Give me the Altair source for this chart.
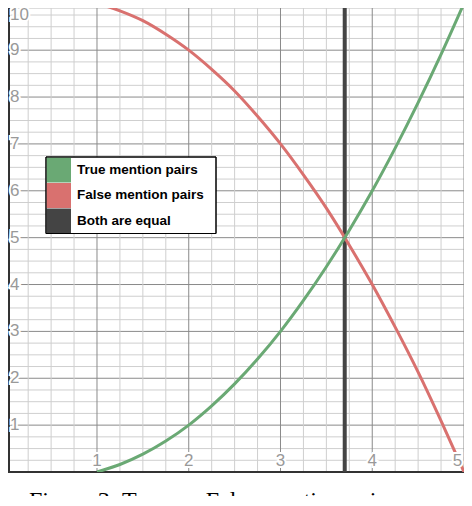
import altair as alt
import pandas as pd

# ---- data ----
n_vals = [1.0, 1.25, 1.5, 1.75, 2.0, 2.25, 2.5, 2.75, 3.0, 3.25, 3.5, 3.75, 4.0, 4.25, 4.5, 4.75, 5.0]
true_pairs = [0.0, 0.16, 0.38, 0.66, 1.0, 1.41, 1.88, 2.41, 3.0, 3.66, 4.38, 5.16, 6.0, 6.91, 7.88, 8.91, 10.0]
false_pairs = [10.0, 9.84, 9.63, 9.34, 9.0, 8.59, 8.13, 7.59, 7.0, 6.34, 5.63, 4.84, 4.0, 3.09, 2.13, 1.09, 0.0]
equal_x = [3.70]

x_ticks = [1, 2, 3, 4, 5]
y_ticks = [1, 2, 3, 4, 5, 6, 7, 8, 9, 10]
grid_x = [i * 0.25 for i in range(1, 21)]
grid_y = [i * 0.25 for i in range(0, 41)]

legend_labels = ["True mention pairs", "False mention pairs", "Both are equal"]
legend_colors = ["#6aa974", "#d9716f", "#444444"]

caption = "Figure 3: True vs. False mention pairs"

GREEN, RED, DARK = legend_colors
W, H = 456, 464
xs = alt.Scale(domain=[0.03, 5.0], nice=False, zero=False)
ys = alt.Scale(domain=[0.0, 9.9], nice=False, zero=False)
noax = dict(axis=None)

gx = pd.DataFrame({"v": grid_x})
gx["major"] = gx["v"] % 1 == 0
gx["c"] = gx["major"].map({True: "#8a8a8a", False: "#cfcfcf"})
gx = gx.sort_values("major")
gy = pd.DataFrame({"v": grid_y})
gy["major"] = gy["v"] % 1 == 0
gy["c"] = gy["major"].map({True: "#8a8a8a", False: "#cfcfcf"})
gy = gy.sort_values("major")

vgrid = alt.Chart(gx).mark_rule(strokeWidth=1, clip=True).encode(
    x=alt.X("v:Q", scale=xs, **noax), color=alt.Color("c:N", scale=None))
hgrid = alt.Chart(gy).mark_rule(strokeWidth=1, clip=True).encode(
    y=alt.Y("v:Q", scale=ys, **noax), color=alt.Color("c:N", scale=None))

left_axis = alt.Chart(pd.DataFrame({"a": [0]})).mark_rule(color="#333333", strokeWidth=2).encode(
    x=alt.value(1))
bottom_axis = alt.Chart(pd.DataFrame({"v": [0.0]})).mark_rule(color="#333333", strokeWidth=2).encode(
    y=alt.Y("v:Q", scale=ys, **noax))

df = pd.DataFrame({"n": n_vals, "t": true_pairs, "f": false_pairs})
green = alt.Chart(df).mark_line(color=GREEN, strokeWidth=3, interpolate="monotone", clip=True).encode(
    x=alt.X("n:Q", scale=xs, **noax), y=alt.Y("t:Q", scale=ys, **noax))
red = alt.Chart(df).mark_line(color=RED, strokeWidth=3, interpolate="monotone", clip=True).encode(
    x=alt.X("n:Q", scale=xs, **noax), y=alt.Y("f:Q", scale=ys, **noax))
vline = alt.Chart(pd.DataFrame({"x": equal_x})).mark_rule(color=DARK, strokeWidth=4).encode(
    x=alt.X("x:Q", scale=xs, **noax))

# axis labels (inside the plot, like the reference)
ylab_df = pd.DataFrame({"v": y_ticks, "t": [str(v) for v in y_ticks]})
ylab_base = alt.Chart(ylab_df).transform_calculate(yp="min(datum.v, 9.74)")
ylab_halo = ylab_base.mark_text(align="left", baseline="middle", font="Liberation Sans", fontSize=17,
                                color="white", stroke="white", strokeWidth=4).encode(
    x=alt.value(2), y=alt.Y("yp:Q", scale=ys, **noax), text="t:N")
ylab = ylab_base.mark_text(align="left", baseline="middle", font="Liberation Sans", fontSize=17,
                           color="#999999").encode(
    x=alt.value(2), y=alt.Y("yp:Q", scale=ys, **noax), text="t:N")

xlab_df = pd.DataFrame({"v": x_ticks, "t": [str(v) for v in x_ticks]})
xlab_base = alt.Chart(xlab_df).transform_calculate(xp="min(datum.v, 4.93)")
xlab_halo = xlab_base.mark_text(align="center", baseline="middle", font="Liberation Sans", fontSize=17,
                                color="white", stroke="white", strokeWidth=4).encode(
    x=alt.X("xp:Q", scale=xs, **noax), y=alt.value(453), text="t:N")
xlab = xlab_base.mark_text(align="center", baseline="middle", font="Liberation Sans", fontSize=17,
                           color="#999999").encode(
    x=alt.X("xp:Q", scale=xs, **noax), y=alt.value(453), text="t:N")

# legend box
lx0, lx1, ly0, row_h = 38, 208, 149, 25.5
legend_layers = [
    alt.Chart(pd.DataFrame({"a": [0]})).mark_rect(fill="white", stroke="black", strokeWidth=1).encode(
        x=alt.value(lx0), x2=alt.value(lx1), y=alt.value(ly0), y2=alt.value(ly0 + 3 * row_h))
]
for i, (lab, col) in enumerate(zip(legend_labels, legend_colors)):
    d = pd.DataFrame({"t": [lab]})
    legend_layers.append(alt.Chart(d).mark_rect(fill=col).encode(
        x=alt.value(lx0 + 0.5), x2=alt.value(lx0 + 25),
        y=alt.value(ly0 + 0.5 + i * row_h), y2=alt.value(ly0 + (i + 1) * row_h - (0.5 if i == 2 else 0))))
    legend_layers.append(alt.Chart(d).mark_text(align="left", baseline="middle", font="Liberation Sans",
                                                fontSize=13.5, fontWeight="bold", color="black").encode(
        x=alt.value(lx0 + 31), y=alt.value(ly0 + (i + 0.5) * row_h), text="t:N"))
legend_layers.append(
    alt.Chart(pd.DataFrame({"a": [0]})).mark_rect(fill=None, stroke="black", strokeWidth=1).encode(
        x=alt.value(lx0), x2=alt.value(lx1), y=alt.value(ly0), y2=alt.value(ly0 + 3 * row_h)))

cap = alt.Chart(pd.DataFrame({"t": [caption]})).mark_text(
    align="left", baseline="alphabetic", font="Liberation Serif", fontSize=24, color="black").encode(
    x=alt.value(21), y=alt.value(500), text="t:N")

chart = alt.layer(
    hgrid, vgrid, left_axis, bottom_axis, vline, red, green,
    ylab_halo, ylab, xlab_halo, xlab, *legend_layers, cap
).properties(
    width=W, height=H,
    autosize=alt.AutoSizeParams(type="none"),
    padding={"left": 0, "top": 0, "right": 0, "bottom": 24},
).configure_view(stroke=None, clip=False).configure(background="white")

chart.save("out.html", embed_options={"renderer": "svg", "actions": False})
